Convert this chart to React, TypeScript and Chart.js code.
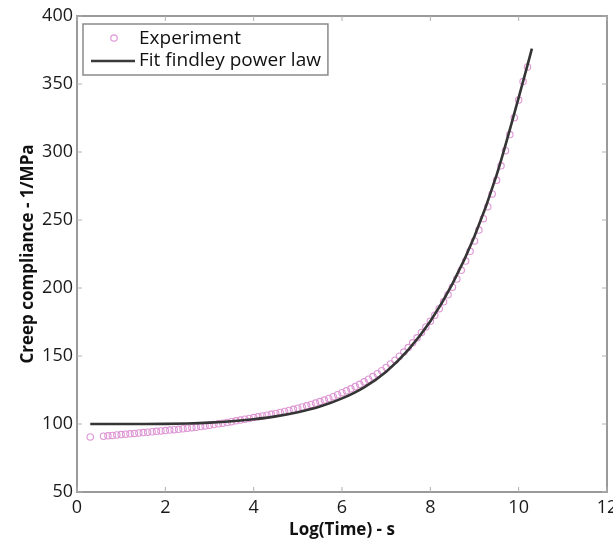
import React, { useEffect, useRef } from "react";
import { Chart, registerables } from "chart.js";

Chart.register(...registerables);

const xTicks = [0, 2, 4, 6, 8, 10, 12];
const yTicks = [50, 100, 150, 200, 250, 300, 350, 400];

const expX = [
  0.3, 0.6, 0.7, 0.8, 0.9, 1.0, 1.1, 1.2, 1.3, 1.4, 1.5, 1.6, 1.7, 1.8, 1.9,
  2.0, 2.1, 2.2, 2.3, 2.4, 2.5, 2.6, 2.7, 2.8, 2.9, 3.0, 3.1, 3.2, 3.3, 3.4,
  3.5, 3.6, 3.7, 3.8, 3.9, 4.0, 4.1, 4.2, 4.3, 4.4, 4.5, 4.6, 4.7, 4.8, 4.9,
  5.0, 5.1, 5.2, 5.3, 5.4, 5.5, 5.6, 5.7, 5.8, 5.9, 6.0, 6.1, 6.2, 6.3, 6.4,
  6.5, 6.6, 6.7, 6.8, 6.9, 7.0, 7.1, 7.2, 7.3, 7.4, 7.5, 7.6, 7.7, 7.8, 7.9,
  8.0, 8.1, 8.2, 8.3, 8.4, 8.5, 8.6, 8.7, 8.8, 8.9, 9.0, 9.1, 9.2, 9.3, 9.4,
  9.5, 9.6, 9.7, 9.8, 9.9, 10.0, 10.1, 10.2,
];
const expY = [
  90.5, 91.0, 91.3, 91.6, 91.9, 92.2, 92.5, 92.8, 93.1, 93.4, 93.7, 94.0, 94.3, 94.6, 94.9,
  95.2, 95.5, 95.8, 96.1, 96.5, 96.9, 97.3, 97.7, 98.1, 98.6, 99.1, 99.6, 100.1, 100.6, 101.1,
  101.7, 102.3, 102.9, 103.5, 104.1, 104.7, 105.3, 105.9, 106.5, 107.1, 107.8, 108.5, 109.2, 110.0, 110.8,
  111.6, 112.5, 113.4, 114.4, 115.4, 116.5, 117.6, 118.8, 120.1, 121.5, 123.0, 124.4, 125.9, 127.5, 129.2,
  131.0, 132.9, 134.9, 137.0, 139.2, 141.6, 144.2, 146.9, 149.8, 152.9, 156.2, 159.7, 163.4, 167.3, 171.4,
  175.6, 180.0, 184.8, 189.8, 195.0, 200.6, 206.6, 213.0, 219.8, 227.0, 234.6, 242.6, 251.0, 259.8, 269.2,
  279.2, 289.8, 301.0, 312.8, 325.2, 338.2, 351.8, 362.5,
];

const fitX = [
  0.3, 1.0, 1.5, 2.0, 2.5, 3.0, 3.5, 4.0, 4.5, 5.0, 5.5, 6.0, 6.5, 7.0, 7.5,
  8.0, 8.5, 9.0, 9.5, 10.0, 10.3,
];
const fitY = [
  100.0, 100.0, 100.0, 100.1, 100.4, 101.0, 102.0, 103.5, 105.6, 108.6, 112.8, 118.8, 127.0, 138.5, 154.5,
  175.5, 203.0, 238.0, 283.0, 340.0, 376.0,
];

const FONT = "'Open Sans', 'DejaVu Sans', sans-serif";
const AXIS_GRAY = "#9a9a9a";

const framePlugin = {
  id: "frame",
  afterDraw(chart: any) {
    const { ctx, chartArea, scales } = chart;
    const { left, right, top, bottom } = chartArea;
    ctx.save();
    ctx.strokeStyle = AXIS_GRAY;
    ctx.lineWidth = 2;
    ctx.strokeRect(left, top, right - left, bottom - top);
    ctx.lineWidth = 1;
    ctx.strokeStyle = "#b0b0b0";
    const tl = 5;
    for (const v of xTicks) {
      const px = scales.x.getPixelForValue(v);
      ctx.beginPath();
      ctx.moveTo(px, bottom);
      ctx.lineTo(px, bottom - tl);
      ctx.moveTo(px, top);
      ctx.lineTo(px, top + tl);
      ctx.stroke();
    }
    for (const v of yTicks) {
      const py = scales.y.getPixelForValue(v);
      ctx.beginPath();
      ctx.moveTo(left, py);
      ctx.lineTo(left + tl, py);
      ctx.moveTo(right, py);
      ctx.lineTo(right - tl, py);
      ctx.stroke();
    }
    // legend
    const bx = left + 6;
    const by = top + 8;
    ctx.font = `19px ${FONT}`;
    const tw = Math.max(
      ctx.measureText("Experiment").width,
      ctx.measureText("Fit findley power law").width
    );
    const bw = 57 + tw + 6;
    const bh = 51;
    ctx.fillStyle = "#ffffff";
    ctx.fillRect(bx, by, bw, bh);
    ctx.strokeStyle = "#8a8a8a";
    ctx.lineWidth = 1.5;
    ctx.strokeRect(bx, by, bw, bh);
    ctx.strokeStyle = "rgb(222,150,212)";
    ctx.lineWidth = 1.2;
    ctx.beginPath();
    ctx.arc(bx + 31, by + 14, 3.2, 0, Math.PI * 2);
    ctx.stroke();
    ctx.strokeStyle = "#3a3a3a";
    ctx.lineWidth = 2.6;
    ctx.beginPath();
    ctx.moveTo(bx + 8, by + 37);
    ctx.lineTo(bx + 52, by + 37);
    ctx.stroke();
    ctx.fillStyle = "#111111";
    ctx.textBaseline = "middle";
    ctx.textAlign = "left";
    ctx.fillText("Experiment", bx + 56, by + 15);
    ctx.fillText("Fit findley power law", bx + 56, by + 37);
    ctx.restore();
  },
};

export default function App() {
  const ref = useRef<HTMLCanvasElement | null>(null);
  useEffect(() => {
    if (!ref.current) return;
    const chart = new Chart(ref.current, {
      type: "scatter",
      data: {
        datasets: [
          {
            label: "Fit findley power law",
            type: "line",
            data: fitX.map((x, i) => ({ x, y: fitY[i] })),
            borderColor: "#353535",
            borderWidth: 2.6,
            pointRadius: 0,
            cubicInterpolationMode: "monotone",
            fill: false,
            order: 1,
          },
          {
            label: "Experiment",
            data: expX.map((x, i) => ({ x, y: expY[i] })),
            borderColor: "rgb(222,150,212)",
            backgroundColor: "rgba(0,0,0,0)",
            borderWidth: 1.1,
            pointRadius: 3.2,
            pointStyle: "circle",
            order: 2,
          },
        ],
      },
      options: {
        animation: false,
        responsive: false,
        maintainAspectRatio: false,
        layout: { padding: { left: 0, top: 16, right: 18, bottom: 0 } },
        plugins: {
          legend: { display: false },
          tooltip: { enabled: false },
        },
        scales: {
          x: {
            type: "linear",
            min: 0,
            max: 12,
            afterBuildTicks: (s: any) => {
              s.ticks = xTicks.map((v) => ({ value: v }));
            },
            afterFit: (s: any) => {
              s.height = 48;
            },
            grid: { display: false, drawTicks: false },
            border: { display: false },
            ticks: {
              color: "#1a1a1a",
              font: { family: FONT, size: 18 },
              padding: 5,
              maxRotation: 0,
              autoSkip: false,
            },
            title: {
              display: true,
              text: "Log(Time) - s",
              color: "#111111",
              font: { family: FONT, size: 17, weight: "bold" },
              padding: { top: -6, bottom: 0 },
            },
          },
          y: {
            type: "linear",
            min: 50,
            max: 400,
            afterBuildTicks: (s: any) => {
              s.ticks = yTicks.map((v) => ({ value: v }));
            },
            afterFit: (s: any) => {
              s.width = 77;
            },
            grid: { display: false, drawTicks: false },
            border: { display: false },
            ticks: {
              color: "#1a1a1a",
              font: { family: FONT, size: 18 },
              padding: 4,
              autoSkip: false,
            },
            title: {
              display: true,
              text: "Creep compliance - 1/MPa",
              color: "#111111",
              font: { family: FONT, size: 17, weight: "bold" },
              padding: { top: 18, bottom: 0 },
            },
          },
        },
      } as any,
      plugins: [framePlugin],
    });
    return () => chart.destroy();
  }, []);
  return (
    <div
      style={{
        position: "fixed",
        left: 0,
        top: 0,
        width: 613,
        height: 540,
        overflow: "hidden",
        background: "#fff",
      }}
    >
      <canvas
        ref={ref}
        width={625}
        height={540}
        style={{ display: "block", width: 625, height: 540 }}
      />
    </div>
  );
}
